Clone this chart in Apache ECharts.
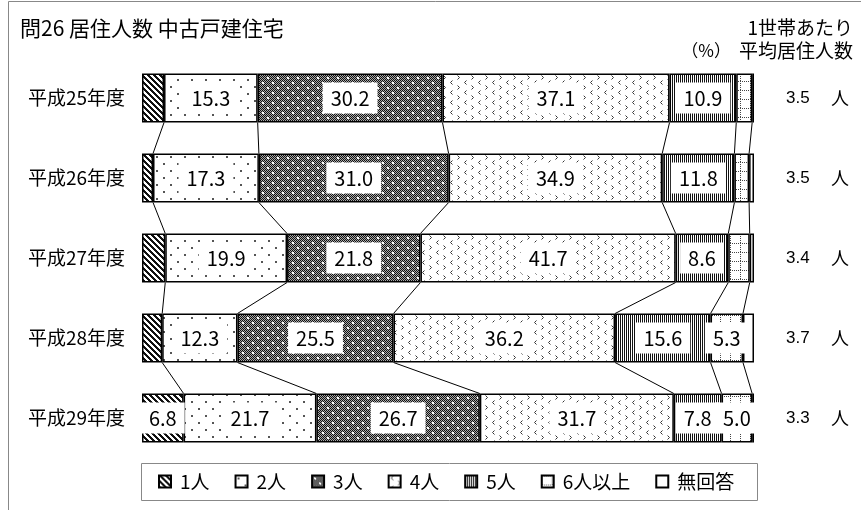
<!DOCTYPE html>
<html><head><meta charset="utf-8">
<script src="https://cdn.jsdelivr.net/npm/echarts@6/dist/echarts.min.js"></script>
<style>html,body{margin:0;padding:0;background:#fff}#c{width:861px;height:510px}</style>
</head><body><div id="c"></div>
<script>
const categories = ['平成25年度','平成26年度','平成27年度','平成28年度','平成29年度'];
const seriesNames = ['1人','2人','3人','4人','5人','6人以上','無回答'];
const p1 = [3.6, 1.8, 3.8, 3.3, 6.8];
const p2 = [15.3, 17.3, 19.9, 12.3, 21.7];
const p3 = [30.2, 31.0, 21.8, 25.5, 26.7];
const p4 = [37.1, 34.9, 41.7, 36.2, 31.7];
const p5 = [10.9, 11.8, 8.6, 15.6, 7.8];
const p6 = [2.6, 2.4, 3.5, 5.3, 5.0];
const pNA = [0.3, 0.8, 0.7, 1.8, 0.3];
const avgPersons = [3.5, 3.5, 3.4, 3.7, 3.3];
const values = [p1, p2, p3, p4, p5, p6, pNA];

const JP = '"Noto Sans CJK JP", sans-serif';

function tile(w, h, draw) {
  const c = document.createElement('canvas'); c.width = w; c.height = h;
  const g = c.getContext('2d'); g.fillStyle = '#fff'; g.fillRect(0, 0, w, h); draw(g, w, h);
  return { image: c, repeat: 'repeat' };
}
const patterns = [
  tile(6, 6, (g) => { g.fillStyle = '#111'; for (let y = 0; y < 6; y++) for (let x = 0; x < 6; x++) if (((x - y) % 6 + 6) % 6 < 3) g.fillRect(x, y, 1, 1); }),
  tile(14, 14, (g) => { g.fillStyle = '#555'; g.fillRect(2, 2, 2, 2); g.fillRect(9, 9, 2, 2); }),
  tile(10, 10, (g) => { for (let y = 0; y < 10; y++) for (let x = 0; x < 10; x++) { g.fillStyle = ((x + y) % 2 === 0) ? '#111' : '#aaa'; g.fillRect(x, y, 1, 1); }
    g.fillStyle = '#fff'; g.fillRect(2, 2, 2, 2); g.fillRect(7, 7, 2, 2); }),
  tile(14, 10, (g) => { g.strokeStyle = '#333'; g.lineWidth = 1; g.beginPath();
    g.moveTo(4.5, 0.5); g.lineTo(2.5, 2.5); g.lineTo(4.5, 4.5); g.moveTo(9.5, 5.5); g.lineTo(11.5, 7.5); g.lineTo(9.5, 9.5); g.stroke(); }),
  tile(2, 2, (g) => { g.fillStyle = '#111'; g.fillRect(0, 0, 1, 2); }),
  tile(10, 9, (g) => { g.fillStyle = '#444'; for (let x = 0; x < 10; x += 2) g.fillRect(x, 0, 1, 1); for (let y = 0; y < 9; y += 2) g.fillRect(0, y, 1, 1); }),
  '#ffffff'
];

const cum = categories.map((_, r) => { let s = 0; return values.map(v => (s += v[r])); });
const connectorData = [];
for (let r = 0; r < categories.length - 1; r++) {
  for (let k = 0; k < 6; k++) connectorData.push([cum[r][k], cum[r + 1][k], r]);
}

const BAR = 49;
const series = seriesNames.map((name, i) => ({
  name, type: 'bar', stack: 'total', barWidth: BAR,
  data: values[i].map(v => ({ value: v, label: { show: v >= 5 } })),
  itemStyle: { color: patterns[i], borderColor: '#000', borderWidth: 1.5 },
  label: {
    position: 'inside',
    formatter: (p) => p.value.toFixed(1),
    fontFamily: JP, fontSize: 20, color: '#000',
    backgroundColor: '#fff', padding: [6, 8, 5, 8]
  },
  emphasis: { disabled: true }
}));
series.push({
  type: 'custom', silent: true, z: 1,
  encode: { x: [0, 1], y: 2 },
  data: connectorData,
  renderItem: (params, api) => {
    const a = api.coord([api.value(0), api.value(2)]);
    const b = api.coord([api.value(1), api.value(2) + 1]);
    return { type: 'line', shape: { x1: a[0], y1: a[1] + BAR / 2, x2: b[0], y2: b[1] - BAR / 2 },
      style: { stroke: '#000', lineWidth: 1 } };
  }
});

const chart = echarts.init(document.getElementById('c'), null, { renderer: 'canvas' });
chart.setOption({
  animation: false,
  textStyle: { fontFamily: JP },
  grid: { left: 142, right: 107, top: 58, bottom: 52 },
  xAxis: { type: 'value', min: 0, max: 100, show: false },
  yAxis: [
    { type: 'category', inverse: true, data: categories,
      axisLine: { show: false }, axisTick: { show: false },
      axisLabel: { color: '#000', fontSize: 19, margin: 17 } },
    { type: 'category', inverse: true, data: categories, position: 'right',
      axisLine: { show: false }, axisTick: { show: false },
      axisLabel: { align: 'left', margin: 32,
        formatter: (v, idx) => '{a|' + avgPersons[idx].toFixed(1) + '}{b|人}',
        rich: { a: { fontFamily: 'Liberation Sans', fontSize: 17, color: '#000', width: 45 },
                b: { fontFamily: JP, fontSize: 18, color: '#000' } } } }
  ],
  legend: {
    data: seriesNames, left: 158, top: 472, padding: 0,
    itemWidth: 12, itemHeight: 12, itemGap: 25, icon: 'rect',
    textStyle: { fontSize: 19, color: '#000', padding: [0, 0, 0, 4] },
    selectedMode: false
  },
  graphic: [
    { type: 'rect', silent: true, shape: { x: 8.5, y: 1.5, width: 900, height: 600 }, style: { fill: 'none', stroke: '#888', lineWidth: 1 } },
    { type: 'rect', silent: true, shape: { x: 141.5, y: 463.5, width: 616, height: 37 }, style: { fill: 'none', stroke: '#888', lineWidth: 1 } },
    { type: 'text', silent: true, style: { x: 20, y: 28, text: '問26 居住人数 中古戸建住宅', fontSize: 21, fill: '#000', fontFamily: JP, verticalAlign: 'middle', align: 'left' } },
    { type: 'text', silent: true, style: { x: 853, y: 28, text: '1世帯あたり', fontSize: 19, fill: '#000', fontFamily: JP, verticalAlign: 'middle', align: 'right' } },
    { type: 'text', silent: true, style: { x: 731, y: 51, text: '（%）', fontSize: 17, fill: '#000', fontFamily: JP, verticalAlign: 'middle', align: 'right' } },
    { type: 'text', silent: true, style: { x: 853, y: 51, text: '平均居住人数', fontSize: 19, fill: '#000', fontFamily: JP, verticalAlign: 'middle', align: 'right' } }
  ],
  series
});
</script></body></html>
